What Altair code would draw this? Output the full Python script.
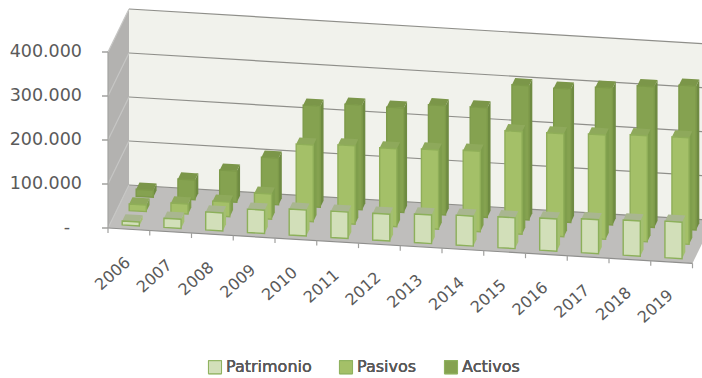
import altair as alt
import pandas as pd

years = ["2006", "2007", "2008", "2009", "2010", "2011", "2012",
         "2013", "2014", "2015", "2016", "2017", "2018", "2019"]
patrimonio = [9000, 21000, 41000, 53000, 59000, 60000, 61000,
              65000, 68000, 70000, 73000, 77000, 80000, 83000]
pasivos = [15000, 23000, 33000, 57000, 174000, 178000, 177000,
           180000, 183000, 233000, 234000, 237000, 241000, 242000]
activos = [16000, 45000, 71000, 106000, 230000, 238000, 237000,
           248000, 249000, 305000, 303000, 311000, 320000, 327000]
value_ticks = [0, 100000, 200000, 300000, 400000]
value_labels = ["-", "100.000", "200.000", "300.000", "400.000"]

# series, row in depth, front / side / top colours, outline
series = [
    ("Activos", activos, 2, "#85a250", "#6f8b42", "#7b9649", "#7d9a49"),
    ("Pasivos", pasivos, 1, "#a4c068", "#7f9e4c", "#8ea95b", "#8fae58"),
    ("Patrimonio", patrimonio, 0, "#d2dfb9", "#a3bf70", "#a9b690", "#8cb05a"),
]
series_names = ["Patrimonio", "Pasivos", "Activos"]
series_colors = ["#d2dfb9", "#a4c068", "#85a250"]

# Oblique projection of (category position, depth 0..1, value) on to the canvas
W, H = 702, 378
ORIGIN_X, ORIGIN_Y = 108, 228
STEP_X, STEP_Y = 41.75, 2.52
DEPTH_X, DEPTH_Y = 21, 43
PER_VALUE = 0.44 / 1000
BAR_HALF = 0.205
BAR_DEPTH = 0.155


def project(u, d, v=0):
    return (ORIGIN_X + STEP_X * u + DEPTH_X * d,
            ORIGIN_Y + STEP_Y * u - DEPTH_Y * d - PER_VALUE * v)


def envelope(poly):
    """Split a convex polygon into upper and lower edges that an area mark can fill."""
    rows = []
    for x in sorted({round(p[0], 3) for p in poly}):
        hits = []
        for (x0, y0), (x1, y1) in zip(poly, poly[1:] + poly[:1]):
            x0, x1 = round(x0, 3), round(x1, 3)
            if x0 == x1:
                if x == x0:
                    hits += [y0, y1]
            elif min(x0, x1) <= x <= max(x0, x1):
                hits.append(y0 + (y1 - y0) * (x - x0) / (x1 - x0))
        rows.append((x, min(hits), max(hits)))
    return rows


def face_rows(poly, face_id, color, name=None):
    return [
        {"x": x, "y": y, "y2": y2, "face": face_id, "fill": color, "series": name}
        for x, y, y2 in envelope(poly)
    ]


x_scale = alt.Scale(domain=[0, W], nice=False, zero=False)
y_scale = alt.Scale(domain=[H, 0], nice=False, zero=False)


def polygons(rows, **mark):
    # Aggregated bounds keep each face together as one path
    return alt.Chart(pd.DataFrame(rows)).mark_area(clip=True, orient="vertical", **mark).encode(
        x=alt.X("x:Q", scale=x_scale, axis=None),
        y=alt.Y("mean(y):Q", scale=y_scale, axis=None),
        y2=alt.Y2("mean(y2):Q"),
        detail="face:N",
    )


top = value_ticks[-1]
end = len(years)

# Walls and floor
walls = (
    face_rows([project(0, 0), project(0, 1), project(0, 1, top), project(0, 0, top)],
              "left", "#b3b2b0")
    + face_rows([project(0, 1), project(end, 1), project(end, 1, top), project(0, 1, top)],
                "back", "#f1f2ec")
    + face_rows([project(0, 0), project(end, 0), project(end, 1), project(0, 1)],
                "floor", "#bfbebc")
)
walls_layer = polygons(walls).encode(
    color=alt.Color("fill:N", scale=None),
)

# Gridlines across the walls, front edges, and tick marks
lines = []
for v in value_ticks:
    for k, (u, d) in enumerate([(end, 1), (0, 1)]):
        x, y = project(u, d, v)
        lines.append({"x": x, "y": y, "step": k, "id": f"back{v}", "tone": "#8f8f8a"})
    for k, (u, d) in enumerate([(0, 1), (0, 0)]):
        x, y = project(u, d, v)
        lines.append({"x": x, "y": y, "step": k, "id": f"side{v}", "tone": "#c6c6c4"})
    x, y = project(0, 0, v)
    lines.append({"x": x, "y": y, "step": 0, "id": f"tick{v}", "tone": "#8a8a88"})
    lines.append({"x": x - 6, "y": y, "step": 1, "id": f"tick{v}", "tone": "#8a8a88"})
for k, u in enumerate([0, end]):
    x, y = project(u, 0)
    lines.append({"x": x, "y": y, "step": k, "id": "front", "tone": "#8f8f8d"})
for k, v in enumerate([0, top]):
    x, y = project(0, 0, v)
    lines.append({"x": x, "y": y, "step": k, "id": "axis", "tone": "#a3a3a1"})
for i in range(end + 1):
    x, y = project(i, 0)
    lines.append({"x": x, "y": y, "step": 0, "id": f"cat{i}", "tone": "#a0a09e"})
    lines.append({"x": x, "y": y + 5, "step": 1, "id": f"cat{i}", "tone": "#a0a09e"})

lines_layer = alt.Chart(pd.DataFrame(lines)).mark_line(strokeWidth=1.2, clip=True).encode(
    x=alt.X("x:Q", scale=x_scale, axis=None),
    y=alt.Y("y:Q", scale=y_scale, axis=None),
    detail="id:N",
    order="step:Q",
    color=alt.Color("tone:N", scale=None),
)

# Bars, one row of depth at a time from back to front
bar_layers = []
for name, values, row, front_c, side_c, top_c, edge_c in series:
    shell, front = [], []
    for i, value in enumerate(values):
        u0, u1 = i + 0.5 - BAR_HALF, i + 0.5 + BAR_HALF
        mid = (row + 0.5) / 3
        d0, d1 = mid - BAR_DEPTH / 2, mid + BAR_DEPTH / 2
        shell += face_rows(
            [project(u1, d0), project(u1, d1), project(u1, d1, value), project(u1, d0, value)],
            f"{name}{i}side", side_c)
        shell += face_rows(
            [project(u0, d0, value), project(u1, d0, value), project(u1, d1, value), project(u0, d1, value)],
            f"{name}{i}top", top_c)
        front += face_rows(
            [project(u0, d0), project(u1, d0), project(u1, d0, value), project(u0, d0, value)],
            f"{name}{i}front", front_c, name)
    bar_layers.append(polygons(shell).encode(color=alt.Color("fill:N", scale=None)))
    bar_layers.append(
        polygons(front, stroke=edge_c, strokeWidth=1.4).encode(
            color=alt.Color(
                "series:N",
                scale=alt.Scale(domain=series_names, range=series_colors),
                sort=series_names,
                legend=alt.Legend(
                    title=None,
                    orient="none",
                    legendX=207,
                    legendY=359,
                    direction="horizontal",
                    symbolType="square",
                    symbolSize=170,
                    symbolStrokeColor="#8fb25f",
                    symbolStrokeWidth=1,
                    labelFont="DejaVu Sans",
                    labelFontSize=16,
                    labelColor="#595959",
                    labelOffset=3,
                    columnPadding=25,
                    padding=0,
                ),
            )
        )
    )

# Axis labels; the zero dash sits further in from the axis than the numbers
value_text = pd.DataFrame([
    {"x": project(0, 0, v)[0] - (38 if v == 0 else 26), "y": project(0, 0, v)[1], "label": t}
    for v, t in zip(value_ticks, value_labels)
])
value_layer = alt.Chart(value_text).mark_text(
    align="right", baseline="middle", font="DejaVu Sans", fontSize=17.5, color="#5a5a5a"
).encode(
    x=alt.X("x:Q", scale=x_scale, axis=None),
    y=alt.Y("y:Q", scale=y_scale, axis=None),
    text="label:N",
)

year_text = pd.DataFrame([
    {"x": project(i + 0.5, 0)[0] - 16, "y": project(i + 0.5, 0)[1] + 44.5, "label": t}
    for i, t in enumerate(years)
])
year_layer = alt.Chart(year_text).mark_text(
    align="center", baseline="middle", angle=318, font="DejaVu Sans", fontSize=16, color="#5a5a5a"
).encode(
    x=alt.X("x:Q", scale=x_scale, axis=None),
    y=alt.Y("y:Q", scale=y_scale, axis=None),
    text="label:N",
)

chart = alt.layer(
    walls_layer, lines_layer, *bar_layers, value_layer, year_layer
).resolve_scale(color="independent").properties(
    width=W,
    height=H,
    padding=0,
    autosize=alt.AutoSizeParams(type="none"),
    background="white",
).configure_view(stroke=None)

chart.save("out.html", embed_options={"renderer": "svg", "actions": False})
